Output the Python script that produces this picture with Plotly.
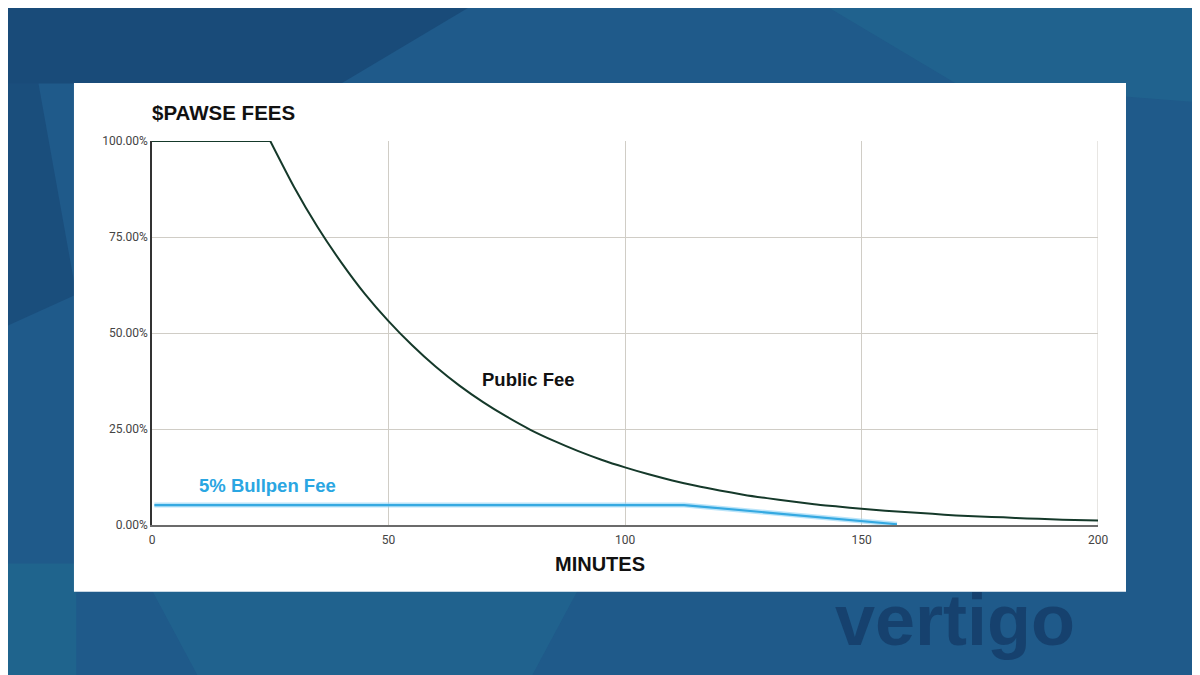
import plotly.graph_objects as go

# public fee (% of max), every 5 minutes
public_minutes = [0, 5, 10, 15, 20, 25, 30, 35, 40, 45, 50, 55, 60, 65, 70, 75, 80, 85, 90, 95,
                  100, 105, 110, 115, 120, 125, 130, 135, 140, 145, 150, 155, 160, 165, 170,
                  175, 180, 185, 190, 195, 200]
public_fee = [100, 100, 100, 100, 100, 100, 88.1, 77.6, 68.4, 60.2, 53.1, 46.8, 41.2, 36.3,
              32.0, 28.2, 24.8, 21.9, 19.3, 17.0, 15.0, 13.2, 11.6, 10.2, 9.0, 7.9, 7.0, 6.2,
              5.4, 4.8, 4.2, 3.7, 3.3, 2.9, 2.5, 2.2, 2.0, 1.7, 1.5, 1.3, 1.2]
flat_until = 25  # public fee stays at 100% until here

bullpen_minutes = [0.5, 112.5, 157.5]
bullpen_fee = [5.2, 5.2, 0.2]

x_ticks = [0, 50, 100, 150, 200]
y_ticks = [0, 25, 50, 75, 100]
y_tick_labels = ["0.00%", "25.00%", "50.00%", "75.00%", "100.00%"]

GRID = "#d0cdc6"
k = public_minutes.index(flat_until)

fig = go.Figure()

# pale halo under the bullpen line
fig.add_trace(go.Scatter(x=bullpen_minutes, y=bullpen_fee, mode="lines",
                         line=dict(color="rgba(140,210,245,0.6)", width=5),
                         hoverinfo="skip", showlegend=False))
fig.add_trace(go.Scatter(x=bullpen_minutes, y=bullpen_fee, mode="lines",
                         name="5% Bullpen Fee",
                         line=dict(color="#35a9e1", width=2.2), showlegend=False))
fig.add_trace(go.Scatter(x=public_minutes[:k + 1], y=public_fee[:k + 1], mode="lines",
                         name="Public Fee", line=dict(color="#15392a", width=2),
                         showlegend=False))
fig.add_trace(go.Scatter(x=public_minutes[k:], y=public_fee[k:], mode="lines",
                         name="Public Fee",
                         line=dict(color="#15392a", width=2, shape="spline", smoothing=0.6),
                         showlegend=False))

fig.add_annotation(x=79.5, y=37.8, text="<b>Public Fee</b>", showarrow=False,
                   font=dict(family="Liberation Sans", size=18.5, color="#111111"))
fig.add_annotation(x=24.5, y=10.4, text="<b>5% Bullpen Fee</b>", showarrow=False,
                   font=dict(family="Liberation Sans", size=18.5, color="#2aa6e2"),
                   bgcolor="rgba(255,255,255,0.85)")
fig.add_annotation(xref="paper", yref="paper", x=0.4736, y=-0.1016, yanchor="middle",
                   text="<b>MINUTES</b>", showarrow=False,
                   font=dict(family="Liberation Sans", size=20, color="#111111"))

# backdrop: a bit of texture, watermark, then the white card
backdrop = [
    ("rgba(8,30,70,0.25)", "M -0.17,1.37 L 0.35,1.37 L 0.2,1.15 L -0.17,1.15 Z"),
    ("rgba(40,140,160,0.18)", "M 0.7,1.37 L 1.11,1.37 L 1.11,1.1 L 0.85,1.15 Z"),
    ("rgba(30,130,150,0.25)", "M -0.17,-0.1 L -0.08,-0.1 L -0.08,-0.4 L -0.17,-0.4 Z"),
    ("rgba(8,30,70,0.2)", "M -0.17,1.15 L -0.12,1.15 L -0.08,0.6 L -0.17,0.5 Z"),
    ("rgba(40,150,170,0.15)", "M 0.0,-0.17 L 0.45,-0.17 L 0.4,-0.4 L 0.05,-0.4 Z"),
]
for color, path in backdrop:
    fig.add_shape(type="path", xref="paper", yref="paper", path=path, fillcolor=color,
                  line=dict(width=0), layer="below")
fig.add_annotation(xref="paper", yref="paper", x=0.849, y=-0.138, xanchor="center",
                   yanchor="top", text="<b>vertigo</b>", showarrow=False,
                   font=dict(family="Liberation Sans", size=72,
                             color="rgba(10,35,75,0.45)"))
fig.add_shape(type="rect", xref="paper", yref="paper", x0=-0.0825, x1=1.0296,
              y0=-0.174, y1=1.151, fillcolor="white", line=dict(width=0), layer="below")

fig.update_layout(
    width=1192, height=667,
    margin=dict(l=144, r=102, t=133, b=150),
    paper_bgcolor="#1f5a8a",
    plot_bgcolor="white",
    font=dict(family="Roboto", color="#444444"),
    title=dict(text="<b>$PAWSE FEES</b>", x=144 / 1192, xanchor="left",
               y=1 - 105 / 667, yanchor="middle",
               font=dict(family="Liberation Sans", size=20.5, color="#111111")),
)
fig.update_xaxes(range=[0, 200], tickvals=x_ticks, showgrid=True, gridcolor=GRID,
                 gridwidth=1, zeroline=False, showline=True, linecolor="#6b6b6b",
                 linewidth=2, ticks="", ticklabelstandoff=3,
                 tickfont=dict(size=12, color="#444444"))
fig.update_yaxes(range=[0, 100], tickvals=y_ticks, ticktext=y_tick_labels, showgrid=True,
                 gridcolor=GRID, gridwidth=1, zeroline=False, showline=True,
                 linecolor="#333333", linewidth=1.5, ticks="",
                 tickfont=dict(size=12, color="#444444"))
# right border at 200
fig.add_shape(type="line", xref="x", yref="paper", x0=200, x1=200, y0=0, y1=1,
              line=dict(color=GRID, width=1), layer="below")

fig.write_html("out.html")
